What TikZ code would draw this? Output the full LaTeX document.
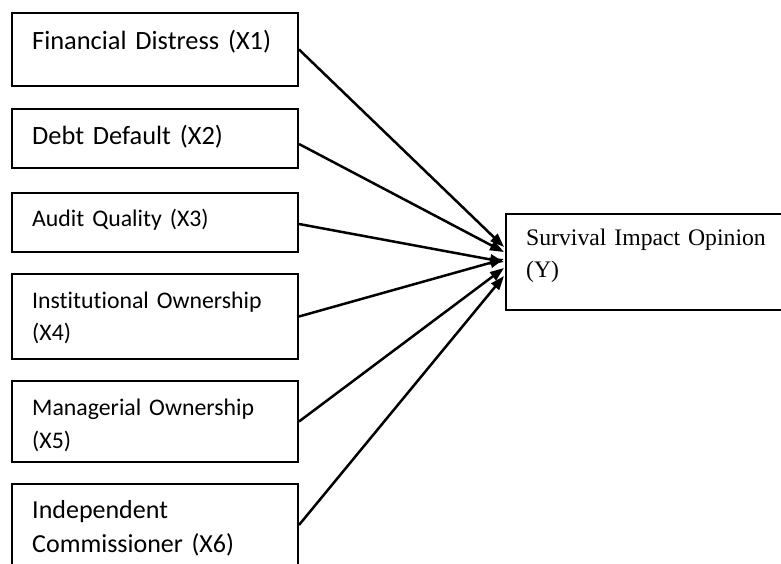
\documentclass[tikz,border=0pt]{standalone}
\usepackage{fontspec}
\setmainfont{Liberation Serif}
\newfontfamily\carlitofont[Ligatures=NoCommon]{Carlito}
\usetikzlibrary{arrows.meta}
\begin{document}
\begin{tikzpicture}[x=1pt,y=-1pt,
  box/.style={draw, line width=2pt, inner sep=0pt, anchor=north west, minimum width=286pt},
  lbl/.style={inner sep=0pt, anchor=base west, text width=270pt, align=left},
  conn/.style={line width=2.5pt, -{Triangle[length=14pt,width=10pt]}}]
\useasboundingbox (0,0) rectangle (781,564);
\clip (0,0) rectangle (781,564);
% left boxes
\node[box, minimum height=73pt] (b1) at (11,12) {};
\node[box, minimum height=59pt] (b2) at (11,108) {};
\node[box, minimum height=59pt] (b3) at (11,192) {};
\node[box, minimum height=85pt] (b4) at (11,273) {};
\node[box, minimum height=81pt] (b5) at (11,380) {};
\node[box, minimum height=84pt] (b6) at (11,483) {};
% right box
\node[box, minimum width=290pt, minimum height=96pt] (y) at (505,213) {};
% labels
\node[lbl, font=\carlitofont\fontsize{26.4}{33}\selectfont] (t1) at (32,50) {Financial Distress (X1)};
\node[lbl, font=\carlitofont\fontsize{26.4}{33}\selectfont] (t2) at (32,145) {Debt Default (X2)};
\node[lbl, font=\carlitofont\fontsize{23.8}{33}\selectfont] (t3) at (32,226.5) {Audit Quality (X3)};
\node[lbl, font=\carlitofont\fontsize{23.8}{32.5}\selectfont] (t4) at (32,308) {Institutional Ownership\\(X4)};
\node[lbl, font=\carlitofont\fontsize{23.8}{33}\selectfont] (t5) at (32,415) {Managerial Ownership\\(X5)};
\node[lbl, font=\carlitofont\fontsize{26}{34}\selectfont] (t6) at (32,518) {Independent\\Commissioner (X6)};
\node[lbl, text width=260pt, font=\fontsize{23.7}{32.5}\selectfont] (ty) at (526,245) {Survival Impact Opinion\\(Y)};
% arrow ends
\coordinate (e1) at (504,247);
\coordinate (e2) at (504,252);
\coordinate (e3) at (504,262);
\coordinate (e4) at (504,259);
\coordinate (e5) at (504,268);
\coordinate (e6) at (504,276);
% connectors
\draw[conn] (b1.east) -- (e1);
\draw[conn] ([yshift=-5.5pt]b2.east) -- (e2);
\draw[conn] ([yshift=-1.5pt]b3.east) -- (e3);
\draw[conn] (b4.east) -- (e4);
\draw[conn] (b5.east) -- (e5);
\draw[conn] ([yshift=1pt]b6.east) -- (e6);
\end{tikzpicture}
\end{document}
